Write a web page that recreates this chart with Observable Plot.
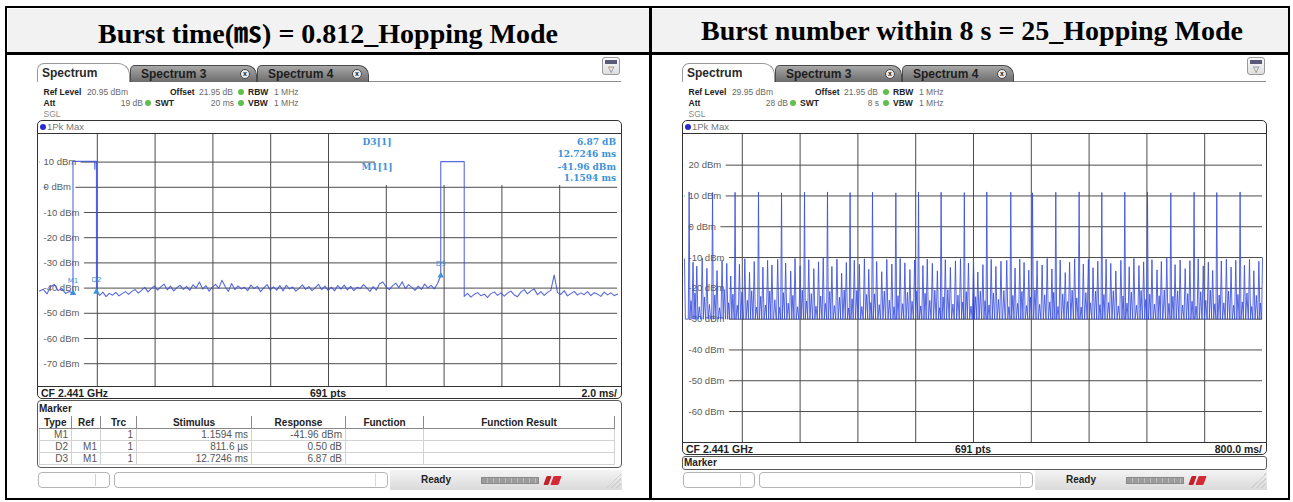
<!DOCTYPE html>
<html>
<head>
<meta charset="utf-8">
<script src="https://cdn.jsdelivr.net/npm/d3@7"></script>
<script src="https://cdn.jsdelivr.net/npm/@observablehq/plot@0.6"></script>
<style>
  html, body { margin: 0; padding: 0; background: #fff; }
  #page { position: relative; width: 1293px; height: 502px; overflow: hidden; background: #fff;
          font-family: "Liberation Sans", Arial, sans-serif; }
  #page div { position: absolute; box-sizing: border-box; white-space: nowrap; }
  .title { font-family: "Liberation Serif", "Times New Roman", serif; font-weight: bold; font-size: 28px;
           color: #000; line-height: 30px; transform: translateX(-50%); }
  .title .unit { font-family: "Noto Sans CJK KR", sans-serif; font-weight: bold; }
  .ui { font-size: 8.5px; line-height: 10px; color: #6a6a6a; }
  .ui b { color: #222; }
  .mk table { border-collapse: collapse; font-size: 10px; color: #555; table-layout: fixed; }
  .mk th { font-weight: bold; color: #222; height: 12px; padding: 0 2px; border-right: 1px solid #8a8a8a;
           border-bottom: 1px solid #8a8a8a; line-height: 11px; }
  .mk td { height: 11px; padding: 0 3px; border: 1px solid #d2d2d2; text-align: right; line-height: 10px; }
</style>
</head>
<body>
<div id="page"></div>
<script>
// ---------------- titles and instrument settings ----------------
const titles = [
  'Burst time(<span class="unit">㎳</span>) = 0.812_Hopping Mode',
  'Burst number within 8 s = 25_Hopping Mode'
];
const tabNames = ["Spectrum", "Spectrum 3", "Spectrum 4"];
const refLevels = ["20.95 dBm", "29.95 dBm"];
const attenuations = ["19 dB", "28 dB"];
const sweepTimes = ["20 ms", "8 s"];
const offsetText = "21.95 dB";
const rbwText = "1 MHz";
const vbwText = "1 MHz";
const centerFreqText = "CF 2.441 GHz";
const sweepPoints = 691;
const divisionText = ["2.0 ms/", "800.0 ms/"];

// ---------------- left screen: zero span, 20 ms sweep ----------------
const leftSweepMs = 20;
const leftXTicks = [2, 4, 6, 8, 10, 12, 14, 16, 18];
const leftYTicks = [10, 0, -10, -20, -30, -40, -50, -60, -70];
const leftYDomain = [-79.05, 20.95];

// marker table (delta markers refer to M1)
const markerType = ["M1", "D2", "D3"];
const markerRef = ["", "M1", "M1"];
const markerTrace = [1, 1, 1];
const markerStimulusMs = [1.1594, 0.8116, 12.7246];
const markerResponse = [-41.96, 0.50, 6.87];

// burst shape
const burstLengthMs = 0.812;
const burstTopDbm = [10.3, 10.2];
const burstDipMs = [1.915];
const burstDipDbm = [7.2];

// noise floor readings: before burst 1, between bursts, after burst 2
const leftNoiseA = [-41.2, -40.5, -42.3, -39.4, -38.6, -41.0, -40.2, -42.1, -41.4];
const leftNoiseB = [
  -42.9, -41.6, -43.4, -42.1, -42.8, -41.7, -43.1, -42.2, -41.4,
  -42.5, -41.3, -40.6, -42.0, -40.9, -39.7, -41.5, -40.2, -39.1,
  -40.8, -39.5, -38.4, -40.7, -39.2, -41.1, -39.8, -38.9, -40.5,
  -39.3, -40.9, -38.7, -39.9, -37.6, -40.4, -39.0, -41.2, -39.6,
  -38.5, -40.1, -36.9, -39.4, -41.3, -38.2, -40.6, -39.1, -40.3,
  -39.7, -41.0, -38.8, -40.2, -39.3, -41.4, -39.9, -38.6, -40.7,
  -39.5, -40.8, -39.0, -41.1, -38.9, -40.3, -39.6, -41.2, -40.0,
  -38.7, -40.5, -39.4, -41.0, -39.8, -38.5, -40.6, -39.2, -40.9,
  -39.6, -41.1, -39.0, -40.4, -38.8, -40.7, -39.3, -41.0, -39.7,
  -40.2, -38.6, -39.9, -41.3, -39.4, -40.8, -38.3, -37.6, -39.5,
  -40.6, -39.1, -38.0, -39.8, -37.5, -40.2, -38.6, -39.7, -40.9,
  -39.2, -40.5, -38.4, -39.9, -38.9, -40.3, -38.2
];
const leftNoiseC = [
  -43.3, -42.1, -43.6, -42.5, -41.8, -43.0, -42.4, -43.7, -42.2,
  -41.5, -42.9, -41.9, -43.2, -42.0, -41.2, -42.7, -43.4, -41.6,
  -40.6, -42.3, -41.1, -40.4, -42.6, -41.4, -42.9, -41.7, -40.9,
  -34.8, -41.8, -42.5, -41.0, -43.1, -42.2, -41.3, -42.8, -41.9,
  -42.6, -41.4, -43.0, -41.8, -42.4, -43.3, -41.6, -42.7, -41.9, -43.0, -42.3
];

// ---------------- right screen: 8 s sweep ----------------
const rightSweepS = 8;
const rightXTicks = [0.8, 1.6, 2.4, 3.2, 4.0, 4.8, 5.6, 6.4, 7.2];
const rightYTicks = [20, 10, 0, -10, -20, -30, -40, -50, -60];
const rightYDomain = [-70.05, 29.95];
const rightFloorDbm = -30;
const rightEdgeDbm = [-10.5, -10.1];

// the 25 bursts caught in the 8 s window
const hopT = [0.064, 0.388, 0.700, 1.024, 1.343, 1.661, 1.979, 2.292, 2.602, 2.925, 3.239, 3.552, 3.873,
              4.184, 4.516, 4.817, 5.139, 5.462, 5.776, 6.094, 6.408, 6.731, 7.053, 7.367, 7.690];
const hopDbm = [11.3, 11.1, 11.2, 11.3, 11.0, 11.2, 11.3, 11.1, 11.2, 11.0, 11.3, 11.2, 11.1,
                11.3, 11.2, 11.0, 11.2, 11.3, 11.1, 11.2, 11.3, 11.0, 11.2, 11.1, 11.3];
// adjacent-channel responses
const midT = [0.118, 0.17, 0.245, 0.31, 0.45, 0.52, 0.585, 0.64, 0.76, 0.835, 0.9, 0.965,
              1.085, 1.15, 1.21, 1.29, 1.40, 1.47, 1.53, 1.60, 1.72, 1.79, 1.855, 1.92,
              2.04, 2.11, 2.175, 2.24, 2.35, 2.42, 2.49, 2.55, 2.66, 2.73, 2.80, 2.87,
              2.985, 3.05, 3.12, 3.185, 3.30, 3.36, 3.43, 3.50, 3.61, 3.68, 3.75, 3.82,
              3.93, 4.00, 4.06, 4.13, 4.245, 4.31, 4.38, 4.46, 4.575, 4.64, 4.70, 4.765,
              4.88, 4.95, 5.02, 5.085, 5.20, 5.27, 5.33, 5.40, 5.52, 5.59, 5.655, 5.72,
              5.835, 5.90, 5.97, 6.04, 6.155, 6.22, 6.29, 6.355, 6.47, 6.54, 6.60, 6.675,
              6.79, 6.86, 6.93, 6.995, 7.11, 7.18, 7.25, 7.31, 7.43, 7.50, 7.565, 7.63,
              7.75, 7.82, 7.88, 7.95];
const midDbm = [-11.5, -12.8, -10.2, -13.5, -14.2, -10.8, -11.9, -16.0, -12.2, -10.4, -14.8, -11.3,
                -13.1, -10.9, -12.4, -10.6, -11.8, -14.4, -10.3, -12.7, -10.7, -13.6, -11.4, -10.2,
                -12.9, -10.5, -15.1, -11.6, -10.9, -12.2, -10.4, -13.8, -11.3, -14.6, -10.6, -12.1,
                -10.3, -11.7, -13.9, -10.8, -12.6, -10.5, -11.9, -14.3, -10.7, -13.2, -11.1, -10.4,
                -11.8, -10.2, -14.7, -12.3, -10.6, -12.9, -11.2, -10.9, -13.4, -10.5, -11.6, -14.1,
                -11.0, -12.4, -10.3, -13.7, -10.8, -14.9, -11.5, -10.4, -12.1, -10.6, -13.3, -11.2,
                -10.5, -11.9, -14.4, -10.9, -13.0, -10.3, -12.6, -11.4, -10.7, -14.0, -11.3, -10.2,
                -12.3, -10.8, -13.6, -11.0, -10.4, -12.7, -11.5, -14.2, -11.1, -10.5, -13.1, -10.9,
                -12.5, -10.6, -14.3, -11.2];
// low-level spurious returns near the floor
const lowT = [0.09, 0.145, 0.205, 0.275, 0.345, 0.42, 0.485, 0.55, 0.61, 0.67,
              0.73, 0.795, 0.87, 0.93, 0.995, 1.055, 1.12, 1.18, 1.25, 1.315,
              1.37, 1.435, 1.50, 1.565, 1.63, 1.69, 1.755, 1.82, 1.885, 1.95,
              2.01, 2.075, 2.145, 2.21, 2.27, 2.32, 2.385, 2.455, 2.52, 2.58,
              2.63, 2.695, 2.765, 2.835, 2.90, 2.955, 3.02, 3.085, 3.15, 3.215,
              3.27, 3.33, 3.395, 3.465, 3.53, 3.58, 3.645, 3.715, 3.785, 3.85,
              3.90, 3.965, 4.03, 4.095, 4.16, 4.215, 4.275, 4.345, 4.42, 4.49,
              4.545, 4.61, 4.67, 4.735, 4.79, 4.85, 4.915, 4.985, 5.055, 5.11,
              5.17, 5.235, 5.30, 5.365, 5.43, 5.49, 5.555, 5.62, 5.69, 5.75,
              5.805, 5.87, 5.935, 6.005, 6.07, 6.125, 6.185, 6.255, 6.32, 6.385,
              6.44, 6.505, 6.57, 6.64, 6.705, 6.76, 6.825, 6.895, 6.965, 7.025,
              7.08, 7.145, 7.215, 7.28, 7.34, 7.40, 7.465, 7.53, 7.60, 7.66,
              7.72, 7.785, 7.85, 7.915, 7.97];
const lowDbm = [-24.0, -21.5, -26.0, -22.8, -25.2, -22.1, -26.3, -20.4, -24.7, -21.9,
                -25.5, -21.2, -23.9, -20.8, -26.1, -22.6, -25.4, -20.9, -23.7, -26.2,
                -21.4, -24.8, -22.3, -26.0, -20.6, -24.1, -21.7, -25.8, -22.5, -24.9,
                -21.0, -25.6, -22.9, -20.5, -26.4, -23.4, -20.7, -25.9, -22.0, -24.6,
                -21.8, -25.3, -20.9, -23.8, -26.0, -22.4, -25.0, -21.3, -24.2, -20.8,
                -25.7, -21.6, -23.9, -20.6, -26.3, -22.8, -20.4, -25.1, -22.2, -24.5,
                -21.1, -25.8, -22.7, -20.9, -24.0, -25.4, -21.5, -23.6, -20.7, -26.0,
                -22.3, -24.9, -21.0, -25.6, -22.8, -20.5, -25.2, -22.1, -24.4, -21.3,
                -25.9, -21.8, -24.3, -20.6, -23.1, -26.1, -21.4, -24.7, -20.9, -25.3,
                -22.0, -24.6, -20.8, -25.7, -22.5, -24.8, -21.2, -25.5, -20.7, -23.6,
                -21.9, -25.1, -22.4, -20.5, -24.9, -22.6, -20.8, -25.4, -21.7, -24.2,
                -25.8, -21.1, -23.9, -20.6, -25.0, -22.2, -24.7, -20.9, -25.5, -22.0,
                -24.4, -21.5, -25.9, -22.3, -24.8];

// ---------------- derived marker positions ----------------
const m1 = { t: markerStimulusMs[0], v: markerResponse[0] };
const markers = markerType.map((name, i) => i === 0
  ? { name, t: m1.t, v: m1.v }
  : { name, t: m1.t + markerStimulusMs[i], v: m1.v + markerResponse[i] });
const d2 = markers[1], d3 = markers[2];

// ---------------- left trace ----------------
function buildLeftTrace() {
  const pts = [];
  leftNoiseA.forEach((v, i) => pts.push({ t: i * m1.t / leftNoiseA.length, v }));
  pts.push({ t: m1.t, v: m1.v });
  // burst 1: M1 to D2
  pts.push({ t: m1.t, v: burstTopDbm[0] });
  burstDipMs.forEach((t, i) => {
    pts.push({ t: t - 0.006, v: burstTopDbm[0] }, { t, v: burstDipDbm[i] }, { t: t + 0.006, v: burstTopDbm[0] });
  });
  pts.push({ t: d2.t, v: burstTopDbm[0] }, { t: d2.t, v: d2.v });
  const nB = leftNoiseB.length;
  leftNoiseB.forEach((v, i) => pts.push({ t: d2.t + (i + 1) * (d3.t - d2.t) / (nB + 1), v }));
  // burst 2 starts at D3
  const fall2 = d3.t + burstLengthMs;
  pts.push({ t: d3.t, v: d3.v }, { t: d3.t, v: burstTopDbm[1] }, { t: fall2, v: burstTopDbm[1] });
  const nC = leftNoiseC.length;
  leftNoiseC.forEach((v, i) => pts.push({ t: fall2 + i * (leftSweepMs - fall2) / (nC - 1), v }));
  return pts;
}

// ---------------- right trace ----------------
function buildRightTrace() {
  const spikes = [
    ...hopT.map((t, i) => ({ t, v: hopDbm[i], hw: 0.0116 })),
    ...midT.map((t, i) => ({ t, v: midDbm[i], hw: 0.016 })),
    ...lowT.map((t, i) => ({ t, v: lowDbm[i], hw: 0.017 }))
  ].sort((a, b) => a.t - b.t);
  const pts = [{ t: 0, v: rightEdgeDbm[0] }, { t: 0.012, v: rightFloorDbm }];
  for (const s of spikes) {
    pts.push({ t: s.t - s.hw, v: rightFloorDbm }, { t: s.t, v: s.v }, { t: s.t + s.hw, v: rightFloorDbm });
  }
  pts.push({ t: rightSweepS - 0.012, v: rightFloorDbm }, { t: rightSweepS, v: rightEdgeDbm[1] });
  return pts;
}

// ---------------- page helpers ----------------
const page = document.getElementById("page");
const SVGNS = "http://www.w3.org/2000/svg";
function put(x, y, w, h, css = "", html = "", cls = "") {
  const d = document.createElement("div");
  d.style.cssText = `left:${x}px;top:${y}px;` + (w != null ? `width:${w}px;` : "") +
                    (h != null ? `height:${h}px;` : "") + css;
  if (cls) d.className = cls;
  d.innerHTML = html;
  page.appendChild(d);
  return d;
}
function textAt(x, yc, html, css = "", cls = "ui") { return put(x, yc - 6, null, 12, "line-height:12px;" + css, html, cls); }
function textRight(xr, yc, html, css = "", cls = "ui") { return put(xr - 160, yc - 6, 160, 12, "line-height:12px;text-align:right;" + css, html, cls); }
function dot(xc, yc) { put(xc - 3, yc - 3, 6, 6, "border-radius:50%;background:#5fbf4a;"); }

// ---------------- document table ----------------
put(5, 6, 1285, 494, "border:2.5px solid #000;");
put(7.5, 8.5, 1280, 44, "background:#f2f2f2;");
put(5, 52, 1285, 2.5, "background:#000;");
put(649, 6, 2.5, 494, "background:#000;");
put(328, 16, null, 30, "", titles[0], "title");
put(972, 16, null, 30, "", titles[1], "title");

function drawScreen(x0, k, grid) {
  const X = v => x0 + v;
  // tab strip
  put(X(130), 81, 491, 1, "background:#8c8c8c;");
  put(X(37), 63, 93, 19, "background:#fff;border:1px solid #9a9a9a;border-bottom:none;border-radius:7px 12px 0 0;");
  textAt(X(42), 73, tabNames[0], "font-size:12px;color:#2a2a2a;font-weight:bold;", "");
  [[130, 127], [257, 112]].forEach(([tx, tw], i) => {
    put(X(tx), 65, tw, 17, "background:linear-gradient(#a8a8a8,#6c6c6c);border:1px solid #4a4a4a;border-bottom:none;border-radius:5px 10px 0 0;");
    textAt(X(tx + 11), 74, tabNames[i + 1], "font-size:12px;font-weight:bold;color:#1e1e1e;", "");
    put(X(tx + tw - 17), 69, 10, 10, "border-radius:50%;background:#ececec;border:1px solid #444;font-size:7px;line-height:8px;text-align:center;color:#222;font-weight:bold;", "x");
  });
  put(X(602), 57, 18, 18, "border:1px solid #9a9a9a;border-radius:3px;background:linear-gradient(#fbfbfb,#dedede);");
  put(X(605), 60, 12, 4, "background:#5a5a7a;");
  put(X(605), 64.5, 12, 9, "font-size:7.5px;line-height:9px;text-align:center;color:#555;", "▽");

  // settings
  textAt(X(43.5), 92, `<b>Ref Level</b>`);
  textRight(X(128), 92, refLevels[k]);
  textAt(X(170), 92, `<b>Offset</b>`);
  textRight(X(233), 92, offsetText);
  dot(X(241), 92);
  textAt(X(248), 92, `<b>RBW</b>`);
  textAt(X(274), 92, rbwText);
  textAt(X(43.5), 103, `<b>Att</b>`);
  textRight(X(143), 103, attenuations[k]);
  dot(X(148), 103);
  textAt(X(155), 103, `<b>SWT</b>`);
  textRight(X(234), 103, sweepTimes[k]);
  dot(X(241), 103);
  textAt(X(248), 103, `<b>VBW</b>`);
  textAt(X(274), 103, vbwText);
  textAt(X(43.5), 114, "SGL", "color:#8a8a8a;");

  // diagram frame
  const gTop = grid.top, gBot = grid.top + grid.h;
  put(X(36.5), 120, 585, gBot + 12.5 - 120, "border:1.6px solid #333;border-radius:5px;background:#fff;");
  put(X(40), 124, 6, 6, "border-radius:50%;background:#2a2ad0;");
  textAt(X(47), 127, "1Pk Max", "color:#777;font-size:9.5px;");
  put(X(37), gTop - 1, 584, 1.3, "background:#333;");
  put(X(37), gBot, 584, 1.3, "background:#333;");
  textAt(X(41), gBot + 6.8, `<b>${centerFreqText}</b>`, "font-size:10.5px;");
  put(X(39), gBot + 0.8, 578, 12, "text-align:center;font-size:10.5px;line-height:12px;font-weight:bold;color:#222;", `${sweepPoints} pts`);
  textRight(X(617), gBot + 6.8, `<b>${divisionText[k]}</b>`, "font-size:10.5px;");

  // plot area
  const holder = put(X(38), gTop, 582, grid.h, "");
  holder.appendChild(grid.svg);

  // status bar
  const sb = 472;
  put(X(390), sb - 2, 232, 20, "background:linear-gradient(#f4f4f4,#dadada);");
  put(X(38), sb, 72, 16, "border:1px solid #b4b4b4;border-radius:4px;background:#fff;");
  put(X(95), sb + 2, 1, 12, "background:#d0d0d0;");
  put(X(114), sb, 274, 16, "border:1px solid #b4b4b4;border-radius:4px;background:#fff;");
  put(X(375), sb + 2, 1, 12, "background:#d8d8d8;");
  textAt(X(421), sb + 8, "<b>Ready</b>", "font-size:10px;");
  put(X(481), sb + 4.5, 58, 7, "background:repeating-linear-gradient(90deg,#9c9c9c 0 5px,#bcbcbc 5px 6px);border:1px solid #8a8a8a;");
  put(X(545), sb + 3.5, 5, 9, "background:#c4202c;transform:skewX(-20deg);border-radius:1px;");
  put(X(552), sb + 3.5, 8, 9, "background:#d42a34;transform:skewX(-20deg);border-radius:1px;");
  put(X(606), sb + 1, 15, 15, "background:linear-gradient(135deg,transparent 0 50%,#cfcfcf 50% 56%,transparent 56% 66%,#cfcfcf 66% 72%,transparent 72% 82%,#cfcfcf 82% 88%,transparent 88%);");
}

// ---------------- plots ----------------
const GRID = "#4c4c4c", LABEL = "#5c5c5c", TRACE = "#3a4fdc", MARK = "#3d92dc";

function fmtStim(i) {
  const ms = markerStimulusMs[i];
  return ms < 1 ? `${(ms * 1000).toFixed(1)} µs` : `${ms.toFixed(4)} ms`;
}
function fmtResp(i) { return i === 0 ? `${markerResponse[i].toFixed(2)} dBm` : `${markerResponse[i].toFixed(2)} dB`; }

function svgEl(tag, attrs, text) {
  const e = document.createElementNS(SVGNS, tag);
  for (const [k, v] of Object.entries(attrs)) e.setAttribute(k, v);
  if (text != null) e.textContent = text;
  return e;
}

// marker readout in the upper right corner of the diagram
function readout(index, scales, values, dimensions) {
  const right = dimensions.width - dimensions.marginRight, bw = 242;
  const g = svgEl("g", { "font-family": "DejaVu Serif, serif", "font-weight": "bold", "font-size": 9, fill: MARK });
  g.appendChild(svgEl("rect", { x: right - bw, y: 0, width: bw, height: 51, fill: "#fff" }));
  const rows = [
    { label: `${markerType[2]}[${markerTrace[2]}]`, y: 8, value: fmtResp(2) },
    { label: null, y: 19.5, value: fmtStim(2) },
    { label: `${markerType[0]}[${markerTrace[0]}]`, y: 33, value: fmtResp(0) },
    { label: null, y: 44, value: fmtStim(0) }
  ];
  for (const r of rows) {
    if (r.label) g.appendChild(svgEl("text", { x: right - bw + 2, y: r.y + 3.2 }, r.label));
    g.appendChild(svgEl("text", { x: right - 1, y: r.y + 3.2, "text-anchor": "end" }, r.value));
  }
  return g;
}

const yLabelText = d => `${d} dBm`;
const yLabels = ticks => Plot.text(ticks, { x: 0, y: d => d, text: yLabelText, textAnchor: "start", dx: 4,
  fill: LABEL, stroke: "#fff", strokeWidth: 10, fontSize: 9.5, fontFamily: "Liberation Sans, Arial, sans-serif" });

const leftSvg = Plot.plot({
  width: 582, height: 252, marginTop: 0, marginBottom: 0, marginLeft: 1, marginRight: 3,
  style: { background: "transparent", overflow: "visible" },
  x: { domain: [0, leftSweepMs], axis: null },
  y: { domain: leftYDomain, axis: null },
  marks: [
    Plot.ruleX(leftXTicks, { stroke: GRID, strokeWidth: 1 }),
    Plot.ruleY(leftYTicks, { stroke: GRID, strokeWidth: 1 }),
    readout,
    yLabels(leftYTicks),
    Plot.line(buildLeftTrace(), { x: "t", y: "v", stroke: TRACE, strokeWidth: 1.1, strokeOpacity: 0.85 }),
    Plot.dot(markers, { x: "t", y: "v", symbol: "triangle", r: 2.4, fill: MARK, stroke: null }),
    Plot.text(markers, { x: "t", y: "v", text: "name", dy: -12, fill: MARK, fontSize: 7, fontFamily: "DejaVu Sans" })
  ]
});

const rightSvg = Plot.plot({
  width: 582, height: 308, marginTop: 0, marginBottom: 0, marginLeft: 1, marginRight: 3,
  style: { background: "transparent", overflow: "visible" },
  x: { domain: [0, rightSweepS], axis: null },
  y: { domain: rightYDomain, axis: null },
  marks: [
    Plot.ruleX(rightXTicks, { stroke: GRID, strokeWidth: 1 }),
    Plot.ruleY(rightYTicks, { stroke: GRID, strokeWidth: 1 }),
    yLabels(rightYTicks),
    Plot.line(buildRightTrace(), { x: "t", y: "v", stroke: TRACE, strokeWidth: 1, strokeOpacity: 0.85 })
  ]
});

drawScreen(0, 0, { top: 134, h: 252, svg: leftSvg });
drawScreen(645, 1, { top: 134, h: 308, svg: rightSvg });

// marker table under the left diagram
put(36.5, 400, 585, 68, "border:1.5px solid #5a5a5a;border-radius:4px;background:#fff;");
textAt(39, 409, "<b>Marker</b>", "font-size:10px;");
const colW = [32, 29, 36, 115, 94, 78, 191];
const heads = ["Type", "Ref", "Trc", "Stimulus", "Response", "Function", "Function Result"];
let html = '<table><colgroup>' + colW.map(w => `<col style="width:${w}px">`).join("") + '</colgroup><tr>' +
  heads.map(h => `<th>${h}</th>`).join("") + '</tr>';
markerType.forEach((t, i) => {
  html += `<tr><td>${t}</td><td>${markerRef[i]}</td><td>${markerTrace[i]}</td><td>${fmtStim(i)}</td>` +
          `<td>${fmtResp(i)}</td><td></td><td></td></tr>`;
});
html += '</table>';
put(39, 416, 580, 50, "", html, "mk");

// marker row under the right diagram
put(645 + 36.5, 455.5, 585, 14, "border:1.5px solid #5a5a5a;border-radius:3px;background:#fff;");
textAt(645 + 39, 462.5, "<b>Marker</b>", "font-size:10px;");
</script>
</body>
</html>
